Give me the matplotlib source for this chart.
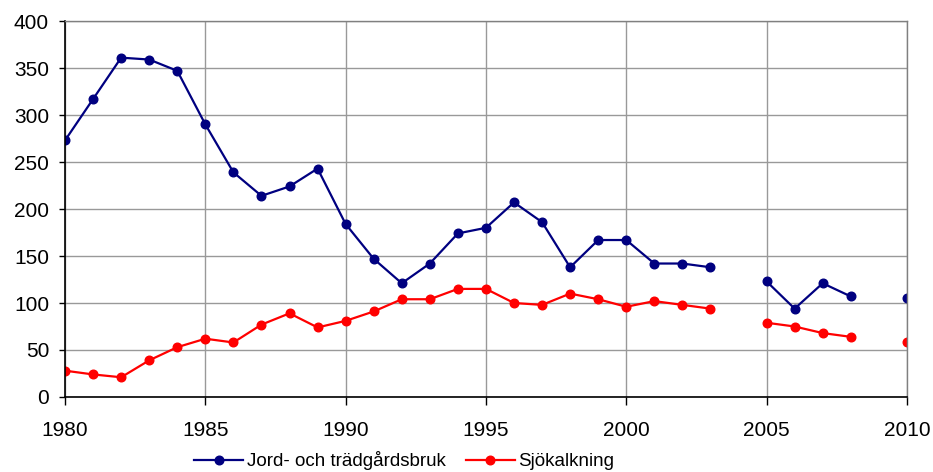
import numpy as np
import matplotlib
matplotlib.use("Agg")
from matplotlib import pyplot as plt

plt.rcParams['font.family'] = ['Liberation Sans', 'DejaVu Sans']

years = np.arange(1980, 2011)
nan = np.nan
jord = [273, 317, 361, 359, 347, 290, 239, 214, 224, 243,
        184, 147, 121, 142, 174, 180, 207, 186, 138, 167,
        167, 142, 142, 138, nan, 123, 94, 121, 107, nan, 105]
sjo = [28, 24, 21, 39, 53, 62, 58, 77, 89, 74,
       81, 91, 104, 104, 115, 115, 100, 98, 110, 104,
       96, 102, 98, 94, nan, 79, 75, 68, 64, nan, 58]
labels = ["Jord- och trädgårdsbruk", "Sjökalkning"]

fig = plt.figure(figsize=(9.33, 4.72), dpi=100)
ax = fig.add_axes([0.0697, 0.1589, 0.9023, 0.7966])

ax.plot(years, jord, color="#000080", lw=1.6, marker="o", ms=6.2, label=labels[0])
ax.plot(years, sjo, color="#ff0000", lw=1.6, marker="o", ms=6.2, label=labels[1])

ax.set_xlim(1980, 2010)
ax.set_ylim(0, 400)
ax.set_xticks(np.arange(1980, 2011, 5))
ax.set_yticks(np.arange(0, 401, 50))
ax.grid(True, color="#999999", lw=1)
ax.set_axisbelow(True)
ax.tick_params(labelsize=15, color="black", width=1, direction="out")
ax.tick_params(axis="x", length=6, pad=11)
ax.tick_params(axis="y", length=4.5, pad=7)
for s in ["left", "bottom"]:
    ax.spines[s].set_color("black")
    ax.spines[s].set_linewidth(1.2)
for s in ["right", "top"]:
    ax.spines[s].set_color("#808080")
    ax.spines[s].set_linewidth(1)
for t in ax.get_xticklabels():
    t.set_clip_on(False)

ax.legend(loc="center", bbox_to_anchor=(0.403, -0.17), ncol=2, frameon=False,
          fontsize=13.5, handlelength=2.6, columnspacing=1.07, handletextpad=0.2,
          borderaxespad=0)

fig.savefig("out.png", dpi=100)
